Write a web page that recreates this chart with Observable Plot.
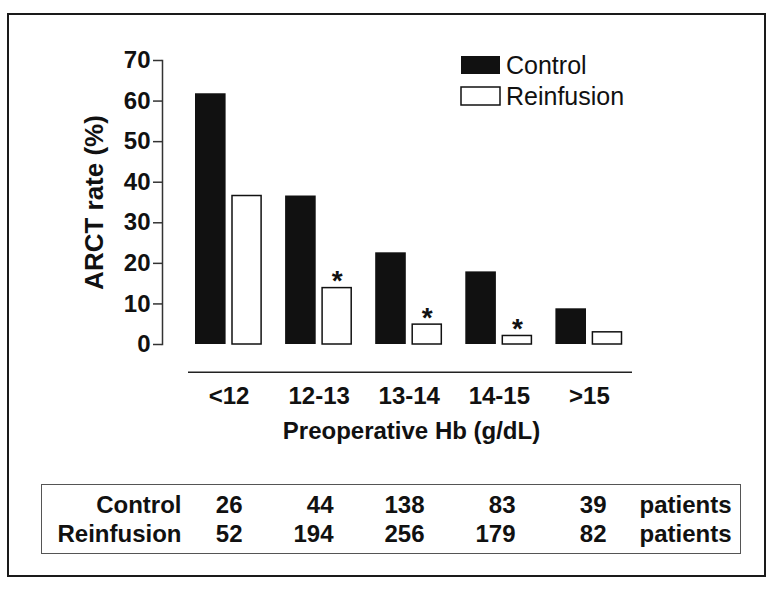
<!DOCTYPE html>
<html><head><meta charset="utf-8">
<script src="https://cdn.jsdelivr.net/npm/d3@7"></script>
<script src="https://cdn.jsdelivr.net/npm/@observablehq/plot@0.6"></script>
<style>
html,body{margin:0;padding:0;background:#fff;}
#root{position:relative;width:778px;height:593px;overflow:hidden;font-family:"Liberation Sans",Arial,sans-serif;}
#root svg{position:absolute;left:0;}
.outer{position:absolute;left:7px;top:13px;width:759px;height:564px;box-sizing:border-box;border:2px solid #1a1a1a;}
.tablebox{position:absolute;left:41px;top:484px;width:700px;height:70px;box-sizing:border-box;border:1.5px solid #555;}
</style></head><body>
<div id="root"></div>
<script>
const categories = ["<12", "12-13", "13-14", "14-15", ">15"];
const series = ["Control", "Reinfusion"];
const controlRate = [61.8, 36.6, 22.6, 17.9, 8.8];
const reinfusionRate = [36.6, 13.9, 4.9, 2.1, 3.0];
const significant = [false, true, true, true, false];
const controlPatients = [26, 44, 138, 83, 39];
const reinfusionPatients = [52, 194, 256, 179, 82];
const yTicks = [0, 10, 20, 30, 40, 50, 60, 70];
const xLabel = "Preoperative Hb (g/dL)";
const yLabel = "ARCT rate (%)";
const unitLabel = "patients";

const font = "'Liberation Sans', Arial, sans-serif";
const rows = categories.map((c, i) => ({cat: c, control: controlRate[i], reinf: reinfusionRate[i], sig: significant[i]}));

const chart = Plot.plot({
  width: 778, height: 470,
  marginTop: 60, marginBottom: 126, marginLeft: 162, marginRight: 146,
  style: {fontFamily: font, color: "#111", background: "transparent", overflow: "visible"},
  x: {domain: categories, range: [183.5, 634], padding: 0, round: false},
  y: {domain: [0, 70], range: [344, 60]},
  marks: [
    Plot.barY(rows, {x: "cat", y: "control", fill: "#111", insetLeft: 11.5, insetRight: 48}),
    Plot.barY(rows, {x: "cat", y: "reinf", fill: "#fff", stroke: "#111", strokeWidth: 1.5, insetLeft: 48.5, insetRight: 12.5}),
    Plot.text(rows.filter(d => d.sig), {x: "cat", y: "reinf", text: () => "*", dx: 18, dy: 2, lineAnchor: "bottom", fontSize: 28, fontWeight: "bold"}),
    Plot.frame({anchor: "left", stroke: "#333", strokeWidth: 1.5}),
    Plot.axisY({ticks: yTicks, tickSize: 9, tickPadding: 3, fontSize: 24, fontWeight: "bold", label: null, stroke: "#333", strokeWidth: 1.5, tickFormat: d => d}),
    Plot.ruleY([0], {dy: 27.7, insetLeft: 26, stroke: "#222", strokeWidth: 1.5}),
    Plot.axisX({tickSize: 0, tickPadding: 42.3, fontSize: 24, fontWeight: "bold", label: null}),
    Plot.text([xLabel], {frameAnchor: "bottom", textAnchor: "middle", dx: 14, dy: 94, lineAnchor: "bottom", fontSize: 24, fontWeight: "bold"}),
    Plot.text([yLabel], {frameAnchor: "left", textAnchor: "middle", rotate: -90, dx: -68, lineAnchor: "middle", fontSize: 26, fontWeight: "bold"})
  ]
});
chart.style.top = "0px";

// legend
const lg = d3.select(chart).append("g").attr("font-family", font).attr("font-size", 25).attr("text-anchor", "start");
const legendStyles = [{fill: "#111", stroke: "none"}, {fill: "#fff", stroke: "#111"}];
series.forEach((s, i) => {
  const y0 = 56 + i * 31;
  lg.append("rect").attr("x", 461).attr("y", y0).attr("width", 39).attr("height", 18)
    .attr("fill", legendStyles[i].fill).attr("stroke", legendStyles[i].stroke).attr("stroke-width", 1.5);
  lg.append("text").attr("x", 506).attr("y", y0 + 17.5).attr("fill", "#111").text(s);
});

const table = [];
categories.forEach((c, i) => {
  table.push({cat: c, row: series[0], n: controlPatients[i]});
  table.push({cat: c, row: series[1], n: reinfusionPatients[i]});
});
const tablePlot = Plot.plot({
  width: 778, height: 123,
  marginLeft: 181, marginRight: 47, marginTop: 0, marginBottom: 0,
  style: {fontFamily: font, color: "#111", background: "transparent", overflow: "visible"},
  x: {type: "point", domain: categories, range: [240.7, 608.3], padding: 0, axis: null},
  y: {type: "point", domain: series, range: [41.7, 70.7], padding: 0, axis: null},
  marks: [
    Plot.text(table, {x: "cat", y: "row", text: d => String(d.n), textAnchor: "end", lineAnchor: "bottom", fontSize: 24, fontWeight: "bold"}),
    Plot.text(series, {y: d => d, text: d => d, frameAnchor: "left", textAnchor: "end", lineAnchor: "bottom", fontSize: 24, fontWeight: "bold"}),
    Plot.text(series, {y: d => d, text: () => unitLabel, frameAnchor: "right", textAnchor: "end", lineAnchor: "bottom", fontSize: 24, fontWeight: "bold"})
  ]
});
tablePlot.style.top = "470px";

const root = document.getElementById("root");
root.appendChild(chart);
root.appendChild(tablePlot);
const outer = document.createElement("div"); outer.className = "outer"; root.appendChild(outer);
const tb = document.createElement("div"); tb.className = "tablebox"; root.appendChild(tb);
</script>
</body></html>
